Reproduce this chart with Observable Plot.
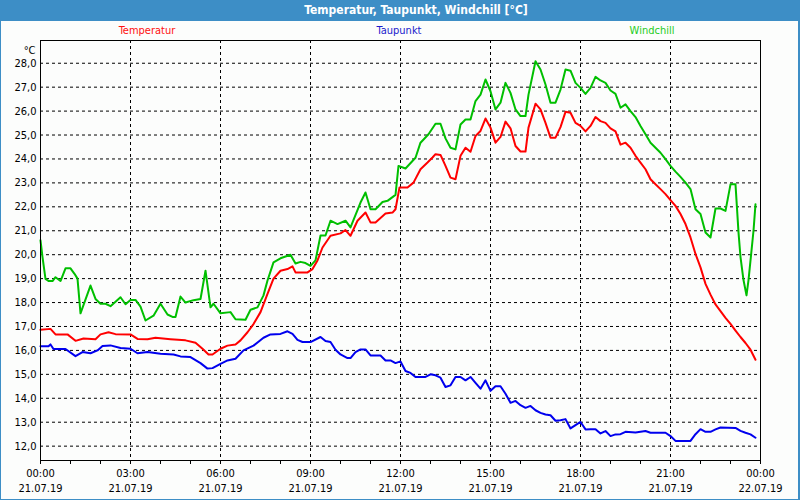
<!DOCTYPE html>
<html>
<head>
<meta charset="utf-8">
<script src="https://cdn.jsdelivr.net/npm/d3@7"></script>
<script src="https://cdn.jsdelivr.net/npm/@observablehq/plot@0.6"></script>
<style>
  html, body { margin: 0; padding: 0; }
  body { width: 800px; height: 500px; position: relative; overflow: hidden; background: #fcfdfc;
         font-family: Tahoma, "DejaVu Sans Condensed", "Liberation Sans", sans-serif; }
  #titlebar { position: absolute; left: 0; top: 0; width: 800px; height: 21px; background: #3d8ec6; }
  #title { position: absolute; top: 3px; left: 416px; transform: translateX(-50%); white-space: nowrap;
           color: #fff; font-weight: bold; font-size: 12px; }
  .bl { position: absolute; background: #3d8ec6; }
  .leg { position: absolute; top: 24px; transform: translateX(-50%); font-size: 11px; white-space: nowrap; }
  #chart { position: absolute; left: 0; top: 36px; }
</style>
</head>
<body>
<div id="titlebar"><div id="title"></div></div>
<div id="legend"></div>
<div id="chart"></div>
<div class="bl" style="left:0;top:21px;width:1px;height:479px"></div>
<div class="bl" style="left:798px;top:21px;width:2px;height:479px"></div>
<div class="bl" style="left:0;top:499px;width:800px;height:1px"></div>
<script>
const titleText = "Temperatur, Taupunkt, Windchill [°C]";
const seriesNames = ["Temperatur", "Taupunkt", "Windchill"];
const seriesColors = ["#ff0000", "#0000ee", "#00bf00"];
const legendColors = ["#ff1010", "#1a1acc", "#22cc22"];
const legendCenters = [147, 399, 652];

// minutes since 21.07.19 00:00
const tempMin = [0,20,30,54,70,86,110,120,136,150,180,194,214,230,260,290,310,324,336,344,360,374,390,400,414,426,440,454,466,480,494,504,510,534,544,554,564,580,600,610,620,634,650,660,670,690,704,710,718,734,746,760,774,784,790,800,810,820,830,840,850,860,870,880,890,900,910,920,930,940,950,960,970,976,990,1000,1010,1020,1030,1040,1050,1060,1070,1080,1090,1100,1110,1120,1130,1140,1150,1160,1170,1180,1190,1200,1210,1220,1230,1240,1250,1260,1270,1280,1290,1300,1310,1320,1330,1340,1350,1360,1370,1380,1390,1400,1410,1420,1430];
const tempVal = [16.86,16.9,16.67,16.67,16.4,16.5,16.47,16.67,16.76,16.68,16.67,16.48,16.47,16.53,16.47,16.42,16.32,16.07,15.83,15.83,16.07,16.2,16.25,16.42,16.76,17.1,17.6,18.36,19.0,19.33,19.4,19.51,19.26,19.26,19.4,19.76,20.3,20.79,20.89,21.03,20.79,21.42,21.76,21.35,21.35,21.72,21.76,21.9,22.81,22.81,23.01,23.57,23.85,24.06,24.2,24.17,23.71,23.22,23.15,24.13,24.47,24.3,24.96,25.17,25.69,25.31,24.68,24.92,25.56,25.28,24.54,24.31,24.31,25.31,26.31,26.07,25.51,24.89,24.89,25.33,25.97,25.93,25.51,25.38,25.15,25.38,25.75,25.58,25.51,25.28,25.15,24.6,24.68,24.47,24.13,23.85,23.57,23.15,22.94,22.74,22.53,22.28,22.04,21.7,21.28,20.72,20.03,19.47,18.78,18.33,17.92,17.64,17.36,17.11,16.83,16.56,16.31,16.03,15.61];

const dewMin = [0,16,20,26,50,70,84,100,114,124,140,160,180,194,214,240,266,280,300,320,334,344,360,374,390,406,426,446,460,480,494,504,514,524,540,560,570,580,590,600,614,620,630,640,650,660,680,690,700,710,720,730,740,750,770,780,790,800,810,820,830,840,850,860,870,880,890,900,910,920,930,940,950,960,970,980,990,1000,1010,1020,1030,1040,1050,1060,1070,1080,1090,1100,1110,1120,1130,1140,1150,1160,1170,1190,1210,1220,1250,1260,1270,1300,1310,1320,1330,1340,1350,1360,1390,1400,1410,1420,1430];
const dewVal = [16.17,16.17,16.25,16.06,16.06,15.76,15.93,15.88,16.0,16.18,16.21,16.1,16.07,15.88,15.93,15.86,15.83,15.75,15.72,15.47,15.24,15.26,15.44,15.58,15.65,16.0,16.2,16.53,16.67,16.69,16.8,16.69,16.44,16.35,16.35,16.56,16.39,16.35,16.03,15.83,15.68,15.68,15.93,16.04,16.04,15.79,15.79,15.58,15.58,15.47,15.54,15.14,15.06,14.89,14.89,15.0,14.96,14.86,14.47,14.54,14.89,14.89,14.75,14.89,14.64,14.4,14.75,14.31,14.5,14.5,14.19,13.81,13.89,13.71,13.6,13.68,13.5,13.39,13.32,13.29,13.06,13.08,13.13,12.74,12.88,13.01,12.7,12.71,12.71,12.53,12.63,12.42,12.49,12.5,12.6,12.57,12.63,12.56,12.56,12.42,12.22,12.22,12.5,12.71,12.6,12.6,12.7,12.78,12.76,12.64,12.56,12.49,12.35];

const chillMin = [0,4,10,16,24,30,40,50,60,68,74,80,100,110,120,130,140,160,170,180,190,200,210,226,240,254,264,270,280,290,306,320,330,340,346,360,380,390,410,420,434,446,454,466,480,500,510,520,530,540,550,560,570,580,594,610,620,640,650,660,670,684,694,710,716,730,750,760,776,790,800,810,820,830,840,850,860,870,880,890,900,910,920,930,940,950,960,970,976,990,1000,1010,1020,1030,1040,1050,1060,1070,1080,1090,1100,1110,1120,1130,1140,1150,1160,1170,1180,1190,1200,1210,1220,1230,1240,1250,1260,1270,1280,1290,1300,1310,1320,1330,1340,1350,1360,1370,1380,1390,1396,1400,1406,1412,1416,1422,1426,1430];
const chillVal = [20.6,19.9,18.99,18.9,18.9,19.06,18.9,19.43,19.43,19.2,19.0,17.55,18.71,18.15,17.95,17.95,17.85,18.22,17.93,18.11,18.11,17.83,17.25,17.45,17.95,17.5,17.4,17.4,18.25,18.0,18.1,18.15,19.33,17.8,17.95,17.55,17.6,17.3,17.28,17.7,17.8,18.3,18.92,19.68,19.85,20.0,19.63,19.7,19.65,19.53,19.76,20.8,20.8,21.42,21.28,21.42,21.14,22.18,22.6,21.9,21.9,22.2,22.25,22.5,23.71,23.6,24.05,24.68,25.03,25.47,25.47,24.86,24.47,24.4,25.44,25.65,25.65,26.42,26.69,27.32,26.83,26.07,26.35,27.18,26.76,26.07,25.79,25.79,26.69,28.08,27.74,27.11,26.35,26.35,26.9,27.74,27.69,27.18,26.97,26.72,26.97,27.43,27.28,27.18,26.86,26.72,26.14,26.28,26.0,25.75,25.38,25.03,24.68,24.47,24.26,23.99,23.71,23.47,23.25,23.01,22.74,21.9,21.7,20.93,20.72,21.93,21.93,21.83,22.94,22.94,20.93,19.9,18.94,18.3,18.94,20.17,21.0,22.11];

const yTicks = [12,13,14,15,16,17,18,19,20,21,22,23,24,25,26,27,28];
const yTickLabels = ["12,0","13,0","14,0","15,0","16,0","17,0","18,0","19,0","20,0","21,0","22,0","23,0","24,0","25,0","26,0","27,0","28,0"];
const xTicks = [0,180,360,540,720,900,1080,1260,1440];
const xTimeLabels = ["00:00","03:00","06:00","09:00","12:00","15:00","18:00","21:00","00:00"];
const xDateLabels = ["21.07.19","21.07.19","21.07.19","21.07.19","21.07.19","21.07.19","21.07.19","21.07.19","22.07.19"];
const hourTicks = d3.range(0, 1441, 60);
const yUnit = "°C";

document.getElementById("title").textContent = titleText;
const leg = document.getElementById("legend");
seriesNames.forEach((n, i) => {
  const s = document.createElement("div");
  s.className = "leg";
  s.style.left = legendCenters[i] + "px";
  s.style.color = legendColors[i];
  s.textContent = n;
  leg.appendChild(s);
});

const mk = (mins, vals) => mins.map((m, i) => ({m, v: vals[i]}));
const temp = mk(tempMin, tempVal);
const dew = mk(dewMin, dewVal);
const chill = mk(chillMin, chillVal);

const font = 'Tahoma, "DejaVu Sans Condensed", "Liberation Sans", sans-serif';
const chart = Plot.plot({
  width: 800,
  height: 462,
  marginLeft: 40,
  marginRight: 40,
  marginTop: 4,
  marginBottom: 38,
  style: {fontFamily: font, fontSize: "11px", background: "transparent", color: "#000", overflow: "visible"},
  x: {domain: [0, 1440], label: null},
  y: {domain: [11.4, 28.95], label: null},
  marks: [
    Plot.gridY(yTicks, {stroke: "#000", strokeOpacity: 1, strokeDasharray: "3,3"}),
    Plot.gridX(xTicks.slice(1, -1), {stroke: "#000", strokeOpacity: 1, strokeDasharray: "3,3"}),
    Plot.axisY({ticks: yTicks, tickSize: 0, tickPadding: 4, tickFormat: (d) => yTickLabels[yTicks.indexOf(d)], label: null}),
    Plot.axisX({ticks: hourTicks, tickSize: 4, tickFormat: () => "", label: null}),
    Plot.axisX({ticks: xTicks, tickSize: 0, tickPadding: 9, tickFormat: (d) => xTimeLabels[xTicks.indexOf(d)], label: null}),
    Plot.axisX({ticks: xTicks, tickSize: 0, tickPadding: 24, tickFormat: (d) => xDateLabels[xTicks.indexOf(d)], label: null}),
    Plot.line(chill, {x: "m", y: "v", stroke: seriesColors[2], strokeWidth: 2}),
    Plot.line(temp, {x: "m", y: "v", stroke: seriesColors[0], strokeWidth: 2}),
    Plot.line(dew, {x: "m", y: "v", stroke: seriesColors[1], strokeWidth: 2}),
    Plot.frame({stroke: "#000"}),
    Plot.text([yUnit], {frameAnchor: "top-left", dx: -5, dy: 6, textAnchor: "end", fill: "#000"})
  ]
});
document.getElementById("chart").appendChild(chart);
</script>
</body>
</html>
